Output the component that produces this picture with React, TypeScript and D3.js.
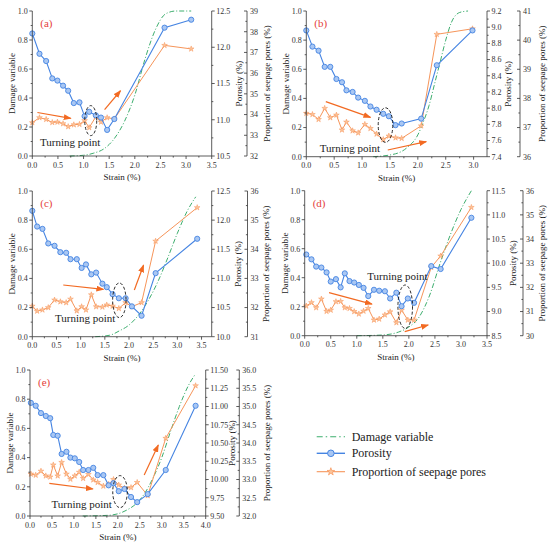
import * as d3 from "d3";

// ---- data ----
const strainA = [0, 0.14, 0.27, 0.39, 0.49, 0.6, 0.7, 0.81, 0.92, 1.02, 1.11, 1.24, 1.34, 1.46, 1.6, 2.58, 3.1];
const porosityA = [12.19, 11.91, 11.81, 11.57, 11.54, 11.47, 11.4, 11.23, 11.24, 11.05, 11.11, 11.06, 11.03, 10.86, 11.01, 12.27, 12.38];
const seepageA = [33.61, 33.85, 33.77, 33.62, 33.64, 33.56, 33.42, 33.51, 33.53, 33.71, 33.37, 33.9, 33.64, 33.85, 33.79, 37.34, 37.17];
const damageStrainA = [0.73, 1.0, 1.2, 1.4, 1.6, 1.8, 2.0, 2.2, 2.4, 2.6, 2.8, 3.1];
const damageA = [0, 0.005, 0.02, 0.05, 0.12, 0.24, 0.42, 0.67, 0.87, 0.98, 1.0, 1.0];

const strainB = [0, 0.11, 0.22, 0.33, 0.43, 0.54, 0.64, 0.72, 0.83, 0.93, 1.05, 1.15, 1.26, 1.38, 1.48, 1.6, 1.71, 2.06, 2.34, 2.98];
const porosityB = [8.96, 8.76, 8.71, 8.51, 8.51, 8.36, 8.32, 8.22, 8.2, 8.13, 8.09, 8.02, 7.98, 7.93, 7.9, 7.79, 7.81, 7.87, 8.53, 8.96];
const seepageB = [37.49, 37.45, 37.28, 37.66, 37.34, 37.43, 36.92, 37.19, 36.89, 36.82, 37.11, 36.97, 36.78, 36.59, 36.71, 36.65, 36.63, 37.06, 40.2, 40.39];
const damageStrainB = [1.2, 1.6, 1.8, 2.0, 2.1, 2.2, 2.3, 2.4, 2.5, 2.6, 2.75, 2.9];
const damageB = [0, 0.02, 0.06, 0.15, 0.24, 0.35, 0.5, 0.65, 0.8, 0.92, 0.99, 1.0];

const strainC = [0, 0.1, 0.21, 0.33, 0.46, 0.58, 0.7, 0.79, 0.92, 1.02, 1.11, 1.22, 1.32, 1.45, 1.54, 1.66, 1.79, 1.93, 2.06, 2.26, 2.55, 3.41];
const porosityC = [12.16, 11.89, 11.85, 11.6, 11.56, 11.45, 11.44, 11.33, 11.33, 11.18, 11.24, 11.07, 11.1, 10.91, 10.85, 10.73, 10.66, 10.66, 10.52, 10.36, 11.09, 11.68];
const seepageC = [32.05, 31.88, 31.92, 32.0, 32.26, 32.2, 32.17, 32.29, 31.89, 32.03, 31.92, 32.44, 32.03, 32.02, 32.09, 32.05, 31.97, 32.17, 32.03, 32.17, 34.28, 35.43];
const damageStrainC = [1.3, 1.6, 1.8, 2.0, 2.2, 2.4, 2.6, 2.8, 3.0, 3.2, 3.38];
const damageC = [0, 0.01, 0.04, 0.08, 0.15, 0.25, 0.38, 0.54, 0.71, 0.86, 0.96];

const strainD = [0.03, 0.13, 0.22, 0.32, 0.42, 0.5, 0.6, 0.69, 0.77, 0.86, 0.95, 1.04, 1.13, 1.22, 1.33, 1.43, 1.54, 1.64, 1.76, 1.86, 1.98, 2.1, 2.43, 2.61, 3.2];
const porosityD = [10.18, 10.08, 9.93, 9.91, 9.81, 9.62, 9.67, 9.5, 9.79, 9.63, 9.6, 9.55, 9.49, 9.32, 9.45, 9.43, 9.42, 9.27, 9.39, 9.11, 9.27, 9.18, 9.94, 9.88, 10.94];
const seepageD = [31.23, 31.37, 31.16, 31.52, 31.01, 31.06, 31.41, 31.42, 31.16, 31.13, 31.0, 30.9, 31.02, 31.13, 30.65, 30.69, 30.86, 30.99, 30.54, 31.06, 30.65, 30.65, 32.83, 33.3, 35.31];
const damageStrainD = [1.0, 1.5, 1.8, 2.0, 2.2, 2.4, 2.6, 2.8, 3.0, 3.2];
const damageD = [0, 0.005, 0.025, 0.06, 0.13, 0.28, 0.5, 0.7, 0.87, 1.0];

const strainE = [0.02, 0.13, 0.25, 0.36, 0.46, 0.53, 0.63, 0.72, 0.83, 0.92, 1.02, 1.12, 1.21, 1.33, 1.44, 1.54, 1.67, 1.79, 1.9, 2.02, 2.15, 2.3, 2.44, 2.68, 3.09, 3.77];
const porosityE = [11.05, 11.01, 10.91, 10.87, 10.84, 10.61, 10.6, 10.35, 10.38, 10.3, 10.29, 10.24, 10.13, 10.13, 10.16, 10.06, 10.06, 9.92, 9.95, 9.84, 9.87, 9.76, 9.69, 9.8, 10.13, 11.01];
const seepageE = [33.15, 33.12, 33.23, 33.1, 33.07, 33.4, 33.1, 33.47, 33.15, 33.01, 33.1, 33.2, 33.03, 33.14, 32.99, 32.92, 32.82, 32.87, 33.0, 32.85, 32.76, 32.78, 32.92, 32.56, 34.13, 35.57];
const damageStrainE = [1.2, 1.8, 2.0, 2.2, 2.4, 2.6, 2.8, 3.0, 3.2, 3.4, 3.6, 3.76];
const damageE = [0, 0.005, 0.015, 0.04, 0.08, 0.15, 0.26, 0.4, 0.58, 0.75, 0.89, 0.97];

const damageTicks = [0, 0.2, 0.4, 0.6, 0.8, 1.0];
const strainTicks35 = [0, 0.5, 1.0, 1.5, 2.0, 2.5, 3.0, 3.5];
const strainTicks30 = [0, 0.5, 1.0, 1.5, 2.0, 2.5, 3.0];
const strainTicks40 = [0, 0.5, 1.0, 1.5, 2.0, 2.5, 3.0, 3.5, 4.0];
const poroTicksA = [10.5, 11.0, 11.5, 12.0, 12.5];
const poroTicksB = [7.4, 7.6, 7.8, 8.0, 8.2, 8.4, 8.6, 8.8, 9.0, 9.2];
const poroTicksC = [10.0, 10.5, 11.0, 11.5, 12.0, 12.5];
const poroTicksD = [8.5, 9.0, 9.5, 10.0, 10.5, 11.0, 11.5];
const poroTicksE = [9.5, 9.75, 10.0, 10.25, 10.5, 10.75, 11.0, 11.25, 11.5];
const seepTicksA = [32, 33, 34, 35, 36, 37, 38, 39];
const seepTicksB = [36, 37, 38, 39, 40, 41];
const seepTicksC = [31, 32, 33, 34, 35, 36];
const seepTicksD = [30, 31, 32, 33, 34, 35, 36];
const seepTicksE = [32.0, 32.5, 33.0, 33.5, 34.0, 34.5, 35.0, 35.5, 36.0];

const legendLabels = ["Damage variable", "Porosity", "Proportion of seepage pores"];

// ---- styles ----
const FONT = "Liberation Serif, Times New Roman, DejaVu Serif, serif";
const GREEN = "#3dae6e";
const BLUE = "#4584e2";
const BLUE_FILL = "#a9c7f3";
const ORANGE = "#f6955a";
const STAR_FILL = "#fcc49a";
const ARROW = "#f26a22";
const LABEL_RED = "#e5413b";

const panels = [
  {
    label: "(a)", strain: strainA, porosity: porosityA, seepage: seepageA, dStrain: damageStrainA, damage: damageA,
    xMax: 3.5, xTicks: strainTicks35, poroTicks: poroTicksA, poroFmt: ".1f", seepTicks: seepTicksA, seepFmt: "d",
    left: 32.3, right: 211.7, top: 11, bottom: 156, axis2: 247, poroTitle: 30, seepTitle: 23,
    arrows: [[[0.1, 0.3], [0.75, 0.26]], [[1.41, 0.32], [1.72, 0.45]]],
    ellipse: { cx: 1.14, cy: 0.244, rx: 6, ry: 15 }, turn: [0.15, 0.071],
  },
  {
    label: "(b)", strain: strainB, porosity: porosityB, seepage: seepageB, dStrain: damageStrainB, damage: damageB,
    xMax: 3.24, xTicks: strainTicks30, poroTicks: poroTicksB, poroFmt: ".1f", seepTicks: seepTicksB, seepFmt: "d",
    left: 306.3, right: 487, top: 11, bottom: 156.7, axis2: 520, poroTitle: 24, seepTitle: 24.7,
    arrows: [[[0.35, 0.378], [1.15, 0.27]], [[1.46, 0.046], [2.15, 0.103]]],
    ellipse: { cx: 1.42, cy: 0.217, rx: 7.3, ry: 17.3 }, turn: [0.24, 0.034],
  },
  {
    label: "(c)", strain: strainC, porosity: porosityC, seepage: seepageC, dStrain: damageStrainC, damage: damageC,
    xMax: 3.71, xTicks: strainTicks35, poroTicks: poroTicksC, poroFmt: ".1f", seepTicks: seepTicksC, seepFmt: "d",
    left: 32.3, right: 211.7, top: 191, bottom: 336.7, axis2: 247.5, poroTitle: 29, seepTitle: 21.5,
    arrows: [[[0.64, 0.355], [1.47, 0.325]], [[2.11, 0.32], [2.3, 0.49]]],
    ellipse: { cx: 1.8, cy: 0.25, rx: 6.7, ry: 17.3 }, turn: [0.47, 0.103],
  },
  {
    label: "(d)", strain: strainD, porosity: porosityD, seepage: seepageD, dStrain: damageStrainD, damage: damageD,
    xMax: 3.5, xTicks: strainTicks35, poroTicks: poroTicksD, poroFmt: ".1f", seepTicks: seepTicksD, seepFmt: "d",
    left: 304.7, right: 487, top: 190.7, bottom: 335.7, axis2: 523, poroTitle: 29, seepTitle: 22,
    arrows: [[[0.467, 0.297], [1.29, 0.218]], [[1.92, 0.028], [2.37, 0.074]]],
    ellipse: { cx: 1.93, cy: 0.2, rx: 7.3, ry: 21.7 }, turn: [1.2, 0.384],
  },
  {
    label: "(e)", strain: strainE, porosity: porosityE, seepage: seepageE, dStrain: damageStrainE, damage: damageE,
    xMax: 4.0, xTicks: strainTicks40, poroTicks: poroTicksE, poroFmt: ".2f", seepTicks: seepTicksE, seepFmt: ".1f",
    left: 30, right: 205.7, top: 370, bottom: 516, axis2: 239.3, poroTitle: 29.5, seepTitle: 31,
    arrows: [[[0.44, 0.224], [1.43, 0.185]], [[2.6, 0.281], [2.92, 0.486]]],
    ellipse: { cx: 2.05, cy: 0.167, rx: 7.3, ry: 16 }, turn: [0.49, 0.053],
  },
];

const mids = (t: number[]) => t.slice(1).map((v, i) => (v + t[i]) / 2);

const Panel = ({ p }: { p: any }) => {
  const { left, right, top, bottom, axis2 } = p;
  const x = d3.scaleLinear().domain([0, p.xMax]).range([left, right]);
  const yD = d3.scaleLinear().domain([0, 1]).range([bottom, top]);
  const pt = p.poroTicks;
  const st = p.seepTicks;
  const yP = d3.scaleLinear().domain([pt[0], pt[pt.length - 1]]).range([bottom, top]);
  const yS = d3.scaleLinear().domain([st[0], st[st.length - 1]]).range([bottom, top]);
  const pf = d3.format(p.poroFmt);
  const sf = d3.format(p.seepFmt);

  const porLine = d3.line<number>().x((_, i) => x(p.strain[i])).y((v) => yP(v));
  const seepLine = d3.line<number>().x((_, i) => x(p.strain[i])).y((v) => yS(v));
  const dmgLine = d3.line<number>().x((_, i) => x(p.dStrain[i])).y((v) => yD(v)).curve(d3.curveMonotoneX);
  const star = d3.symbol(d3.symbolStar, 10)();
  const midY = (top + bottom) / 2;
  const xMinor = mids(p.xTicks).concat(
    [p.xTicks[p.xTicks.length - 1] + 0.25].filter((v) => v <= p.xMax)
  );

  return (
    <g style={{ fontFamily: FONT }} fill="#222">
      {/* damage variable */}
      <path d={dmgLine(p.damage) || ""} fill="none" stroke={GREEN} strokeWidth={1} strokeDasharray="5,2,1,2" />
      {/* seepage */}
      <path d={seepLine(p.seepage) || ""} fill="none" stroke={ORANGE} strokeWidth={1} />
      {p.seepage.map((v: number, i: number) => (
        <path key={"s" + i} d={star || ""} transform={`translate(${x(p.strain[i])},${yS(v)})`}
          fill={STAR_FILL} stroke={ORANGE} strokeWidth={0.5} />
      ))}
      {/* porosity */}
      <path d={porLine(p.porosity) || ""} fill="none" stroke={BLUE} strokeWidth={1.1} />
      {p.porosity.map((v: number, i: number) => (
        <circle key={"p" + i} cx={x(p.strain[i])} cy={yP(v)} r={2.6} fill={BLUE_FILL} stroke={BLUE} strokeWidth={0.9} />
      ))}

      {/* annotations */}
      {p.arrows.map((a: number[][], i: number) => (
        <line key={"a" + i} x1={x(a[0][0])} y1={yD(a[0][1])} x2={x(a[1][0])} y2={yD(a[1][1])}
          stroke={ARROW} strokeWidth={1.2} markerEnd="url(#arrowhead)" />
      ))}
      <ellipse cx={x(p.ellipse.cx)} cy={yD(p.ellipse.cy)} rx={p.ellipse.rx} ry={p.ellipse.ry}
        fill="none" stroke="#111" strokeWidth={0.9} strokeDasharray="3,2" />
      <text x={x(p.turn[0])} y={yD(p.turn[1])} fontSize={11} fill="#222">Turning point</text>
      <text x={left + 8} y={top + 16} fontSize={11} fill={LABEL_RED}>{p.label}</text>

      {/* axes lines */}
      <g stroke="#333" strokeWidth={0.8} fill="none">
        <line x1={left} x2={left} y1={top} y2={bottom} />
        <line x1={left} x2={right} y1={bottom} y2={bottom} />
        <line x1={right} x2={right} y1={top} y2={bottom} />
        <line x1={axis2} x2={axis2} y1={top} y2={bottom} />
        {p.xTicks.map((t: number) => <line key={"xt" + t} x1={x(t)} x2={x(t)} y1={bottom} y2={bottom + 3} />)}
        {xMinor.map((t: number) => <line key={"xm" + t} x1={x(t)} x2={x(t)} y1={bottom} y2={bottom + 1.6} />)}
        {damageTicks.map((t) => <line key={"yt" + t} x1={left - 3} x2={left} y1={yD(t)} y2={yD(t)} />)}
        {mids(damageTicks).map((t) => <line key={"ym" + t} x1={left - 1.6} x2={left} y1={yD(t)} y2={yD(t)} />)}
        {pt.map((t: number) => <line key={"pt" + t} x1={right} x2={right + 3} y1={yP(t)} y2={yP(t)} />)}
        {mids(pt).map((t: number) => <line key={"pm" + t} x1={right} x2={right + 1.6} y1={yP(t)} y2={yP(t)} />)}
        {st.map((t: number) => <line key={"st" + t} x1={axis2 - 3} x2={axis2} y1={yS(t)} y2={yS(t)} />)}
        {mids(st).map((t: number) => <line key={"sm" + t} x1={axis2 - 1.6} x2={axis2} y1={yS(t)} y2={yS(t)} />)}
      </g>

      {/* tick labels */}
      <g fontSize={8} fill="#333">
        {p.xTicks.map((t: number) => (
          <text key={"xl" + t} x={x(t)} y={bottom + 11.5} textAnchor="middle">{t.toFixed(1)}</text>
        ))}
        {damageTicks.map((t) => (
          <text key={"yl" + t} x={left - 4.5} y={yD(t) + 2.8} textAnchor="end">{t.toFixed(1)}</text>
        ))}
        {pt.map((t: number) => (
          <text key={"pl" + t} x={right + 4.5} y={yP(t) + 2.8}>{pf(t)}</text>
        ))}
        {st.map((t: number) => (
          <text key={"sl" + t} x={axis2 + 3} y={yS(t) + 2.8}>{sf(t)}</text>
        ))}
      </g>

      {/* axis titles */}
      <g fontSize={9} fill="#222" textAnchor="middle">
        <text x={(left + right) / 2} y={bottom + 24}>Strain (%)</text>
        <text transform={`translate(${left - 17},${midY}) rotate(-90)`}>Damage variable</text>
        <text transform={`translate(${right + p.poroTitle},${midY}) rotate(-90)`}>Porosity (%)</text>
        <text transform={`translate(${axis2 + p.seepTitle},${midY}) rotate(-90)`}>Proportion of seepage pores (%)</text>
      </g>
    </g>
  );
};

const Legend = () => {
  const x0 = 316.7;
  const x1 = 345;
  const rows = [440.7, 457.3, 475.7];
  const star = d3.symbol(d3.symbolStar, 18)();
  return (
    <g style={{ fontFamily: FONT }} fontSize={12} fill="#222">
      <line x1={x0} x2={x1} y1={rows[0] - 4} y2={rows[0] - 4} stroke={GREEN} strokeWidth={1.1} strokeDasharray="6,3,1.5,3" />
      <line x1={x0} x2={x1} y1={rows[1] - 4} y2={rows[1] - 4} stroke={BLUE} strokeWidth={1.4} />
      <circle cx={(x0 + x1) / 2} cy={rows[1] - 4} r={3.3} fill={BLUE_FILL} stroke={BLUE} strokeWidth={1} />
      <line x1={x0} x2={x1} y1={rows[2] - 4} y2={rows[2] - 4} stroke={ORANGE} strokeWidth={1.1} />
      <path d={star || ""} transform={`translate(${(x0 + x1) / 2},${rows[2] - 4})`} fill={STAR_FILL} stroke={ORANGE} strokeWidth={0.7} />
      {legendLabels.map((l, i) => (
        <text key={l} x={351.7} y={rows[i]}>{l}</text>
      ))}
    </g>
  );
};

const App = () => {
  return (
    <svg width={558} height={546} style={{ position: "absolute", left: 0, top: 0, background: "#fff" }}>
      <defs>
        <marker id="arrowhead" markerUnits="userSpaceOnUse" markerWidth={8} markerHeight={6} refX={7} refY={3} orient="auto">
          <path d="M0,0 L8,3 L0,6 z" fill={ARROW} />
        </marker>
      </defs>
      <rect width={558} height={546} fill="#fff" />
      {panels.map((p) => <Panel key={p.label} p={p} />)}
      <Legend />
    </svg>
  );
};

export default App;
